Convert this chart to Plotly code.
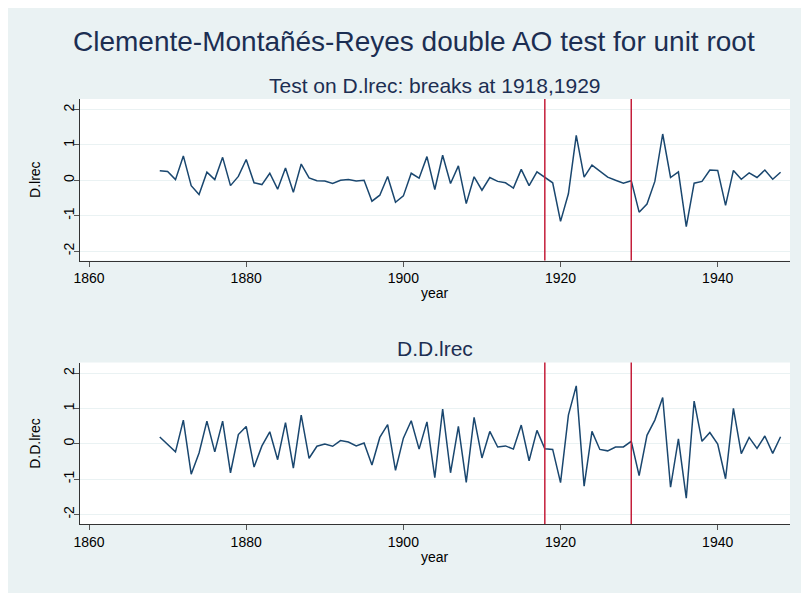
import plotly.graph_objects as go

years = list(range(1869, 1949))

d_lrec = [0.27, 0.25, 0.02, 0.69, -0.15, -0.40, 0.23, 0.02, 0.65, -0.15,
          0.11, 0.59, -0.07, -0.12, 0.20, -0.25, 0.35, -0.34, 0.46, 0.07,
          -0.01, -0.02, -0.09, 0.00, 0.02, -0.02, 0.00, -0.59, -0.42, 0.11,
          -0.62, -0.44, 0.20, 0.06, 0.67, -0.26, 0.71, -0.09, 0.41, -0.66,
          0.10, -0.28, 0.08, -0.03, -0.07, -0.22, 0.31, -0.15, 0.24, 0.08,
          -0.07, -1.16, -0.38, 1.27, 0.09, 0.43, 0.27, 0.09, 0.00, -0.08,
          -0.01, -0.90, -0.67, -0.03, 1.31, 0.08, 0.24, -1.31, -0.08, -0.03,
          0.29, 0.28, -0.71, 0.28, 0.03, 0.21, 0.08, 0.29, 0.03, 0.23]

dd_lrec = [0.19, -0.02, -0.23, 0.67, -0.86, -0.26, 0.64, -0.23, 0.64, -0.82,
           0.26, 0.49, -0.66, -0.06, 0.34, -0.45, 0.60, -0.69, 0.81, -0.41,
           -0.07, -0.01, -0.07, 0.09, 0.05, -0.06, 0.02, -0.60, 0.18, 0.54,
           -0.75, 0.16, 0.65, -0.15, 0.62, -0.96, 0.98, -0.82, 0.49, -1.09,
           0.75, -0.40, 0.35, -0.09, -0.06, -0.15, 0.53, -0.48, 0.38, -0.14,
           -0.16, -1.10, 0.81, 1.64, -1.20, 0.35, -0.16, -0.20, -0.09, -0.09,
           0.07, -0.90, 0.24, 0.67, 1.31, -1.23, 0.14, -1.54, 1.21, 0.07,
           0.32, -0.01, -0.99, 1.00, -0.28, 0.18, -0.13, 0.22, -0.27, 0.20]

breaks = [1918, 1929]
x_ticks = [1860, 1880, 1900, 1920, 1940]
y_ticks = [-2, -1, 0, 1, 2]
y_tick_labels = ["-2", "-1", "0", "1", "2"]

main_title = "Clemente-Montañés-Reyes double AO test for unit root"
sub_top = "Test on D.lrec: breaks at 1918,1929"
sub_bottom = "D.D.lrec"

OFF = 8  # page body margin
W, H = 809 - OFF, 593 - OFF
# plot area in page pixels
X0, X1 = 80, 790
TOP = (99, 260.7)
BOT = (362.7, 524.3)

ML = X0 - OFF
MR = W - (X1 - OFF)
MT = TOP[0] - OFF
MB = H - (BOT[1] - OFF)
PW, PH = W - ML - MR, H - MT - MB

def px_x(p):
    return (p - OFF - ML) / PW

def px_y(p):
    return (H - MB - (p - OFF)) / PH

def clamp(v):
    return min(1.0, max(0.0, v))

BG = "#EAF2F3"
NAVY = "#1A476F"
RED = "#C41E3A"
TXT = "#1C2E52"
FONT = "Liberation Sans, Arial, sans-serif"

fig = go.Figure()
fig.add_trace(go.Scatter(x=years, y=d_lrec, mode="lines", xaxis="x", yaxis="y",
                         line=dict(color=NAVY, width=1.5), showlegend=False))
fig.add_trace(go.Scatter(x=years, y=dd_lrec, mode="lines", xaxis="x2", yaxis="y2",
                         line=dict(color=NAVY, width=1.5), showlegend=False))

top_dom = [clamp(px_y(TOP[1])), clamp(px_y(TOP[0]))]
bot_dom = [clamp(px_y(BOT[1])), clamp(px_y(BOT[0]))]

xr = [1858.85, 1949.2]
yr = [-2.27, 2.30]

xcommon = dict(range=xr, tickvals=x_ticks, ticks="outside", ticklen=5, tickwidth=1,
               tickcolor="#555", showline=True, linecolor="#333", linewidth=1,
               showgrid=False, zeroline=False, tickfont=dict(size=14, color="black", family=FONT))
ycommon = dict(range=yr, tickvals=y_ticks, ticktext=y_tick_labels, ticks="outside",
               ticklen=5, tickwidth=1,
               tickcolor="#555", showline=True, linecolor="#333", linewidth=1,
               showgrid=True, gridcolor=BG, gridwidth=1, zeroline=False, tickangle=-90,
               ticklabelstandoff=-6,
               tickfont=dict(size=14, color="black", family=FONT))

fig.update_layout(
    width=W, height=H,
    margin=dict(l=ML, r=MR, t=MT, b=MB),
    paper_bgcolor=BG, plot_bgcolor="white",
    font=dict(family=FONT),
    xaxis=dict(domain=[0, 1], anchor="y", **xcommon),
    yaxis=dict(domain=top_dom, anchor="x", **ycommon),
    xaxis2=dict(domain=[0, 1], anchor="y2", **xcommon),
    yaxis2=dict(domain=bot_dom, anchor="x2", **ycommon),
)

shapes = []
for b in breaks:
    shapes.append(dict(type="line", xref="x", yref="y domain", x0=b, x1=b, y0=0, y1=1,
                       line=dict(color=RED, width=1.5)))
    shapes.append(dict(type="line", xref="x2", yref="y2 domain", x0=b, x1=b, y0=0, y1=1,
                       line=dict(color=RED, width=1.5)))
fig.update_layout(shapes=shapes)

ann = [
    dict(text=main_title, x=px_x(414), y=px_y(41), font=dict(size=28, color=TXT)),
    dict(text=sub_top, x=px_x(435), y=px_y(85), font=dict(size=21, color=TXT)),
    dict(text=sub_bottom, x=px_x(435), y=px_y(349), font=dict(size=21, color=TXT)),
    dict(text="year", x=px_x(435), y=px_y(293), font=dict(size=14, color="black")),
    dict(text="year", x=px_x(435), y=px_y(557), font=dict(size=14, color="black")),
    dict(text="D.lrec", x=px_x(35), y=px_y(180), textangle=-90, font=dict(size=14, color="black")),
    dict(text="D.D.lrec", x=px_x(35), y=px_y(444), textangle=-90, font=dict(size=14, color="black")),
]
for a in ann:
    a.update(xref="paper", yref="paper", showarrow=False, xanchor="center", yanchor="middle")
fig.update_layout(annotations=ann)

fig.write_html("out.html")
